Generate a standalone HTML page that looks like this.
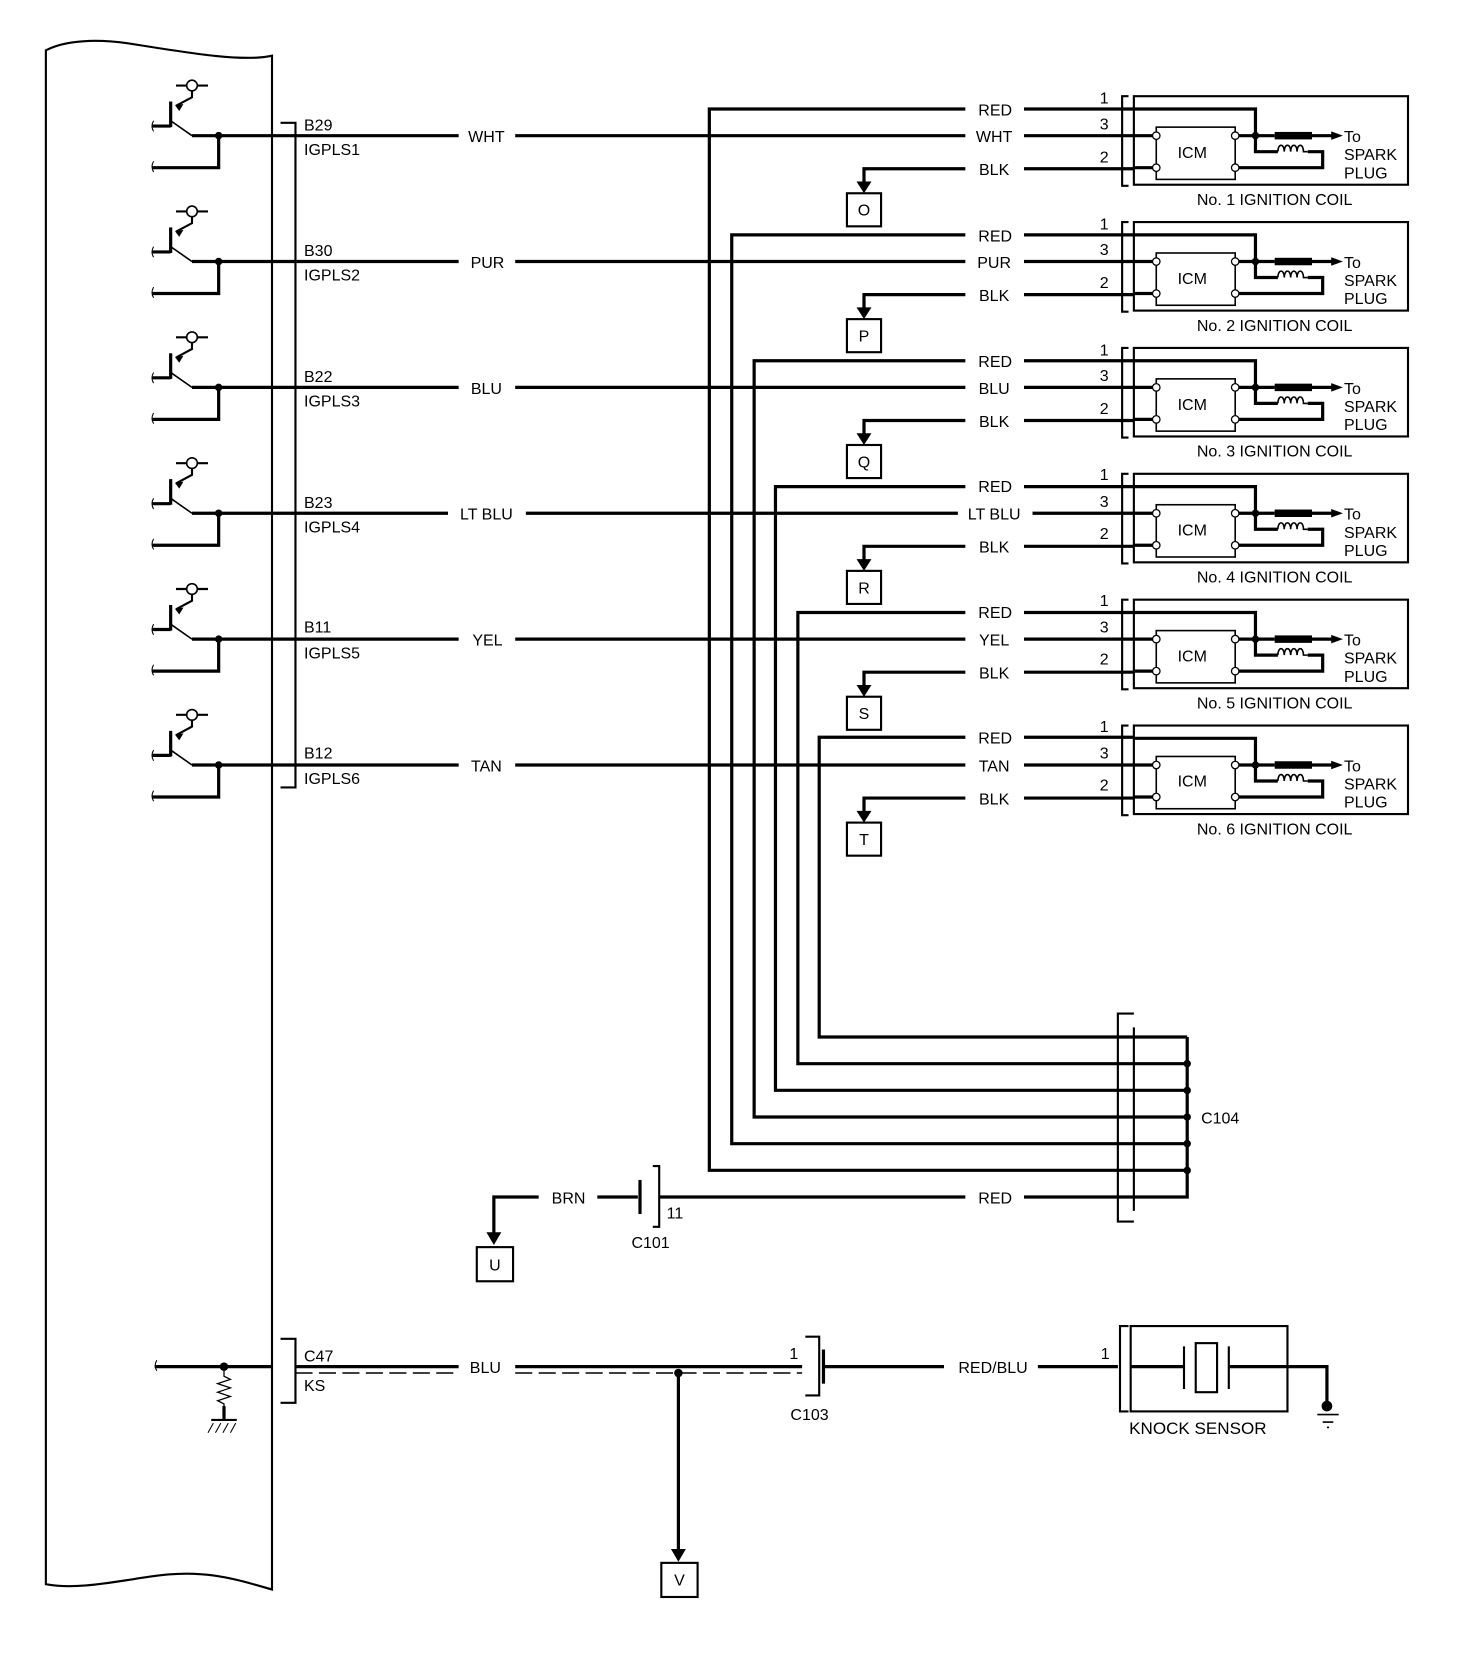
<!DOCTYPE html>
<html><head><meta charset="utf-8"><style>
html,body{margin:0;padding:0;background:#fff}
svg{display:block}
text{font-family:"Liberation Sans",sans-serif;font-size:15px;fill:#000}
</style></head><body>
<svg width="1472" height="1674" viewBox="0 0 1380 1569" xmlns="http://www.w3.org/2000/svg">
<defs>
<g id="drv" fill="none" stroke="#000">
<path d="M165,-47 H195" stroke-width="2"/>
<circle cx="180" cy="-47" r="5" fill="#fff" stroke-width="1.5"/>
<path d="M180,-42 V-36 L165,-28" stroke-width="2"/>
<path d="M165,-28 l6,-1 l-3,5z" fill="#000"/>
<path d="M160,-32 V-8" stroke-width="3"/>
<path d="M143,-9 H160" stroke-width="3"/>
<path d="M160,-14 L180,0" stroke-width="1.5"/>
<path d="M180,0 H255" stroke-width="3"/>
<path d="M205,0 V30 H143" stroke-width="3"/>
<circle cx="205" cy="0" r="3.5" fill="#000" stroke="none"/>
<path d="M144,-14 q-3,5 0,10 M144,24 q-3,5 0,10" stroke-width="1"/>
</g>
<g id="coil" fill="none" stroke="#000">
<path d="M1058,-37 H1052 V47 H1058" stroke-width="2"/>
<rect x="1063" y="-37" width="257" height="83" stroke-width="2"/>
<path d="M1063,-25 H1177 V15 H1198" stroke-width="3"/>
<path d="M1198,15 c0,-8 6,-8 6,0 c0,-8 6,-8 6,0 c0,-8 6,-8 6,0 c0,-8 6,-8 6,0 h4" stroke-width="1.5"/>
<path d="M1226,15 H1240 V30 H1158" stroke-width="3"/>
<path d="M1063,0 H1084 M1158,0 H1195 M1230,0 H1250 M1063,30 H1084" stroke-width="3"/>
<rect x="1195" y="-3.5" width="35" height="7" fill="#000" stroke="none"/>
<path d="M1248,-4 L1259,0 L1248,4z" fill="#000" stroke="none"/>
<rect x="1084" y="-8" width="74" height="49" stroke-width="1.5"/>
<circle cx="1177" cy="0" r="3.5" fill="#000" stroke="none"/>
<g fill="#fff" stroke-width="1.2"><circle cx="1084" cy="0" r="3.5"/><circle cx="1084" cy="30" r="3.5"/><circle cx="1158" cy="0" r="3.5"/><circle cx="1158" cy="30" r="3.5"/></g>
</g>
</defs>

<!-- ECM outline -->
<path d="M43,47 C60,38 90,35 130,42 C180,50 230,58 255,52 V1490 C220,1480 190,1470 140,1478 C100,1484 70,1490 43,1485 Z" fill="none" stroke="#000" stroke-width="2"/>

<!-- pin bracket -->
<path d="M263,115 H277 V738 H263" fill="none" stroke="#000" stroke-width="2"/>

<g stroke="#000" fill="none" stroke-width="3">
<!-- rows -->
<path d="M255,127 H430 M483,127 H905 M960,127 H1063"/>
<path d="M255,245 H430 M483,245 H905 M960,245 H1063"/>
<path d="M255,363 H430 M483,363 H905 M960,363 H1063"/>
<path d="M255,481 H420 M493,481 H898 M968,481 H1063"/>
<path d="M255,599 H430 M483,599 H905 M960,599 H1063"/>
<path d="M255,717 H430 M483,717 H905 M960,717 H1063"/>
<!-- RED wires -->
<path d="M905,102 H665 V1097 H1113"/><path d="M960,102 H1063"/>
<path d="M905,220 H686 V1072 H1113"/><path d="M960,220 H1063"/>
<path d="M905,338 H707 V1047 H1113"/><path d="M960,338 H1063"/>
<path d="M905,456 H727 V1022 H1113"/><path d="M960,456 H1063"/>
<path d="M905,574 H748 V997 H1113"/><path d="M960,574 H1063"/>
<path d="M905,691 H768 V972 H1113"/><path d="M960,691 H1063"/>
<!-- BLK wires -->
<path d="M960,158 H1063 M905,158 H810 V172"/>
<path d="M960,276 H1063 M905,276 H810 V290"/>
<path d="M960,394 H1063 M905,394 H810 V408"/>
<path d="M960,512 H1063 M905,512 H810 V526"/>
<path d="M960,630 H1063 M905,630 H810 V644"/>
<path d="M960,748 H1063 M905,748 H810 V762"/>
<!-- C104 bus -->
<path d="M1113,972 V1122 H960 M905,1122 H618"/>
</g>
<g fill="#000">
<path d="M803,170 L817,170 L810,181z"/><path d="M803,288 L817,288 L810,299z"/><path d="M803,406 L817,406 L810,417z"/>
<path d="M803,524 L817,524 L810,535z"/><path d="M803,642 L817,642 L810,653z"/><path d="M803,760 L817,760 L810,771z"/>
<circle cx="1113" cy="997" r="3.5"/><circle cx="1113" cy="1022" r="3.5"/><circle cx="1113" cy="1047" r="3.5"/><circle cx="1113" cy="1072" r="3.5"/><circle cx="1113" cy="1097" r="3.5"/>
</g>
<path d="M1063,950 H1048 V1145 H1063" fill="none" stroke="#000" stroke-width="2"/>
<path d="M1063,963 V1135" fill="none" stroke="#000" stroke-width="2"/>

<use href="#drv" y="127"/><use href="#drv" y="245"/><use href="#drv" y="363"/>
<use href="#drv" y="481"/><use href="#drv" y="599"/><use href="#drv" y="717"/>
<use href="#coil" y="127"/><use href="#coil" y="245"/><use href="#coil" y="363"/>
<use href="#coil" y="481"/><use href="#coil" y="599"/><use href="#coil" y="717"/>

<!-- letter boxes -->
<g fill="#fff" stroke="#000" stroke-width="2">
<rect x="794" y="181" width="32" height="31"/><rect x="794" y="299" width="32" height="31"/><rect x="794" y="417" width="32" height="31"/>
<rect x="794" y="535" width="32" height="31"/><rect x="794" y="653" width="32" height="31"/><rect x="794" y="771" width="32" height="31"/>
<rect x="447" y="1169" width="34" height="32"/><rect x="620" y="1465" width="34" height="32"/>
</g>
<g text-anchor="middle">
<text x="810" y="202">O</text><text x="810" y="320">P</text><text x="810" y="438">Q</text>
<text x="810" y="556">R</text><text x="810" y="674">S</text><text x="810" y="792">T</text>
<text x="464" y="1191">U</text><text x="637" y="1486">V</text>
</g>

<!-- labels -->
<g>
<text x="285" y="122">B29</text><text x="285" y="145">IGPLS1</text>
<text x="285" y="240">B30</text><text x="285" y="263">IGPLS2</text>
<text x="285" y="358">B22</text><text x="285" y="381">IGPLS3</text>
<text x="285" y="476">B23</text><text x="285" y="499">IGPLS4</text>
<text x="285" y="593">B11</text><text x="285" y="617">IGPLS5</text>
<text x="285" y="711">B12</text><text x="285" y="735">IGPLS6</text>
</g>
<g text-anchor="middle">
<text x="456" y="133">WHT</text><text x="457" y="251">PUR</text><text x="456" y="369">BLU</text>
<text x="456" y="487">LT BLU</text><text x="457" y="605">YEL</text><text x="456" y="723">TAN</text>
<text x="932" y="133">WHT</text><text x="932" y="251">PUR</text><text x="932" y="369">BLU</text>
<text x="932" y="487">LT BLU</text><text x="932" y="605">YEL</text><text x="932" y="723">TAN</text>
<text x="933" y="108">RED</text><text x="933" y="226">RED</text><text x="933" y="344">RED</text>
<text x="933" y="461">RED</text><text x="933" y="579">RED</text><text x="933" y="697">RED</text>
<text x="932" y="164">BLK</text><text x="932" y="282">BLK</text><text x="932" y="400">BLK</text>
<text x="932" y="518">BLK</text><text x="932" y="636">BLK</text><text x="932" y="754">BLK</text>
</g>
<g>
<text x="1031" y="97">1</text><text x="1031" y="121">3</text><text x="1031" y="152">2</text>
<text x="1031" y="215">1</text><text x="1031" y="239">3</text><text x="1031" y="270">2</text>
<text x="1031" y="333">1</text><text x="1031" y="357">3</text><text x="1031" y="388">2</text>
<text x="1031" y="450">1</text><text x="1031" y="475">3</text><text x="1031" y="505">2</text>
<text x="1031" y="568">1</text><text x="1031" y="593">3</text><text x="1031" y="623">2</text>
<text x="1031" y="686">1</text><text x="1031" y="711">3</text><text x="1031" y="741">2</text>
</g>
<g style="font-size:16px">
<text x="1104" y="148">ICM</text><text x="1104" y="266">ICM</text><text x="1104" y="384">ICM</text>
<text x="1104" y="502">ICM</text><text x="1104" y="620">ICM</text><text x="1104" y="737">ICM</text>
<text x="1260" y="133">To</text><text x="1260" y="150">SPARK</text><text x="1260" y="167">PLUG</text>
<text x="1260" y="251">To</text><text x="1260" y="268">SPARK</text><text x="1260" y="285">PLUG</text>
<text x="1260" y="369">To</text><text x="1260" y="386">SPARK</text><text x="1260" y="403">PLUG</text>
<text x="1260" y="487">To</text><text x="1260" y="504">SPARK</text><text x="1260" y="521">PLUG</text>
<text x="1260" y="605">To</text><text x="1260" y="622">SPARK</text><text x="1260" y="639">PLUG</text>
<text x="1260" y="723">To</text><text x="1260" y="740">SPARK</text><text x="1260" y="757">PLUG</text>
</g>
<g text-anchor="middle" style="font-size:16px">
<text x="1195" y="192">No. 1 IGNITION COIL</text><text x="1195" y="310">No. 2 IGNITION COIL</text>
<text x="1195" y="428">No. 3 IGNITION COIL</text><text x="1195" y="546">No. 4 IGNITION COIL</text>
<text x="1195" y="664">No. 5 IGNITION COIL</text><text x="1195" y="782">No. 6 IGNITION COIL</text>
</g>
<text x="1126" y="1053">C104</text>
<text x="933" y="1128" text-anchor="middle">RED</text>

<!-- C101 -->
<g fill="none" stroke="#000">
<path d="M505,1122 H463 V1157 M560,1122 H598" stroke-width="3"/>
<path d="M600,1106 V1138" stroke-width="3"/>
<path d="M612,1093 H618 V1150 H612" stroke-width="2"/>
</g>
<path d="M456,1155 L470,1155 L463,1167z" fill="#000"/>
<text x="533" y="1128" text-anchor="middle">BRN</text>
<text x="625" y="1142">11</text>
<text x="592" y="1170">C101</text>

<!-- knock -->
<g fill="none" stroke="#000">
<path d="M145,1281 H255" stroke-width="3"/>
<path d="M147,1275 q-3,5 0,10" stroke-width="1"/>
<path d="M210,1281 V1290 l6,3 l-12,4 l12,4 l-12,4 l12,4 l-12,4 l6,3 V1330" stroke-width="1.2"/>
<path d="M210,1318 V1330" stroke-width="3"/>
<path d="M198,1331 H222" stroke-width="2"/>
<path d="M200,1334 l-5,9 M207,1334 l-5,9 M214,1334 l-5,9 M221,1334 l-5,9" stroke-width="1"/>
<path d="M263,1255 H277 V1315 H263" stroke-width="2"/>
<path d="M277,1281 H430 M483,1281 H752" stroke-width="3"/>
<path d="M277,1287 H430 M483,1287 H752" stroke-width="1.5" stroke-dasharray="16,6"/>
<path d="M636,1287 V1455" stroke-width="3"/>
<path d="M755,1253 H768 V1308 H755" stroke-width="2"/>
<path d="M772,1265 V1297" stroke-width="3"/>
<path d="M772,1281 H885 M973,1281 H1048" stroke-width="3"/>
<path d="M1058,1243 H1050 V1323 H1058" stroke-width="2"/>
<rect x="1060" y="1243" width="147" height="80" stroke-width="2"/>
<path d="M1060,1281 H1110 M1152,1281 H1207 H1244 V1318" stroke-width="3"/>
<path d="M1110,1262 V1302 M1152,1262 V1302" stroke-width="2"/>
<rect x="1121" y="1259" width="20" height="46" stroke-width="2"/>
<path d="M1235,1326 H1255 M1240,1333 H1250" stroke-width="1.5"/>
<path d="M1244,1338 H1246" stroke-width="1.5"/>
</g>
<circle cx="210" cy="1281" r="4" fill="#000"/>
<circle cx="636" cy="1287" r="4" fill="#000"/>
<circle cx="1244" cy="1318" r="5" fill="#000"/>
<path d="M629,1452 L643,1452 L636,1464z" fill="#000"/>
<text x="285" y="1276">C47</text><text x="285" y="1304">KS</text>
<text x="455" y="1287" text-anchor="middle">BLU</text>
<text x="740" y="1274">1</text>
<text x="741" y="1331">C103</text>
<text x="931" y="1287" text-anchor="middle">RED/BLU</text>
<text x="1032" y="1274">1</text>
<text x="1123" y="1344" text-anchor="middle" style="font-size:16px">KNOCK SENSOR</text>
</svg>
</body></html>
